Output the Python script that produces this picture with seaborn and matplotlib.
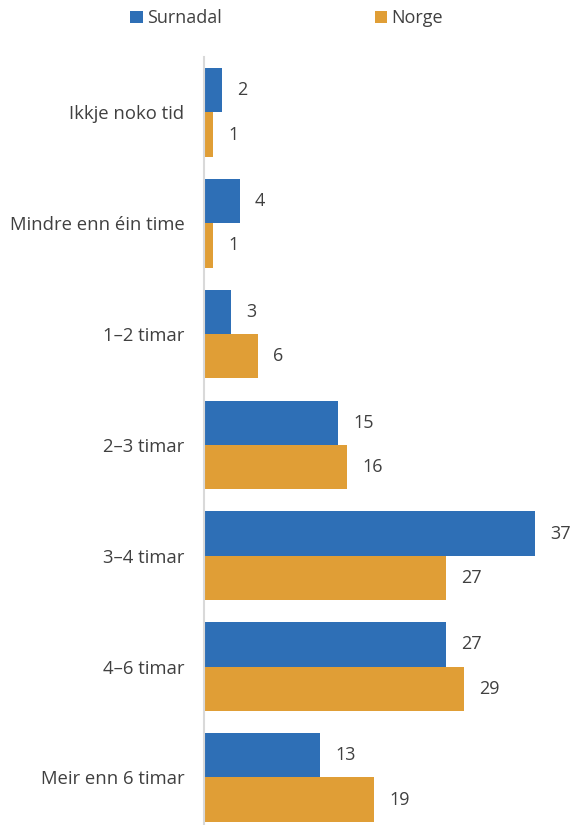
import matplotlib.pyplot as plt
import seaborn as sns
import pandas as pd

categories = ["Ikkje noko tid", "Mindre enn éin time", "1–2 timar", "2–3 timar",
              "3–4 timar", "4–6 timar", "Meir enn 6 timar"]
surnadal = [2, 4, 3, 15, 37, 27, 13]
norge = [1, 1, 6, 16, 27, 29, 19]
series = ["Surnadal", "Norge"]
colors = ["#2E6FB6", "#E09E36"]

df = pd.DataFrame({
    "kategori": categories * 2,
    "prosent": surnadal + norge,
    "serie": [series[0]] * len(categories) + [series[1]] * len(categories),
})

sns.set_style("white")
plt.rcParams["font.family"] = ["Open Sans", "DejaVu Sans"]
text_color = "#404040"

fig = plt.figure(figsize=(5.73, 8.25), dpi=100)
ax = fig.add_axes([0.356, 0.0, 0.6126, 0.931])

sns.barplot(data=df, y="kategori", x="prosent", hue="serie", order=categories,
            hue_order=series, palette=colors, width=0.8, orient="h", ax=ax,
            saturation=1, linewidth=0, legend=True)

for cont in ax.containers:
    ax.bar_label(cont, padding=11, fontsize=13, color=text_color)

ax.set_xlim(0, 39.2)
ax.set_ylim(6.43, -0.5)
ax.set_xlabel("")
ax.set_ylabel("")
ax.set_xticks([])
ax.tick_params(axis="y", length=0, labelsize=13.3, labelcolor=text_color, pad=14)
for s in ["top", "right", "bottom"]:
    ax.spines[s].set_visible(False)
ax.spines["left"].set_color("#D9D9D9")
ax.spines["left"].set_linewidth(1.5)

handles, labels = ax.get_legend_handles_labels()
ax.legend_.remove()
fig.legend(handles, labels, loc="center", bbox_to_anchor=(0.5, 0.978), ncol=2,
           frameon=False, fontsize=13, handlelength=0.7, handleheight=0.7,
           handletextpad=0.2, columnspacing=8.5, labelcolor=text_color)

fig.savefig("out.png", dpi=100)
